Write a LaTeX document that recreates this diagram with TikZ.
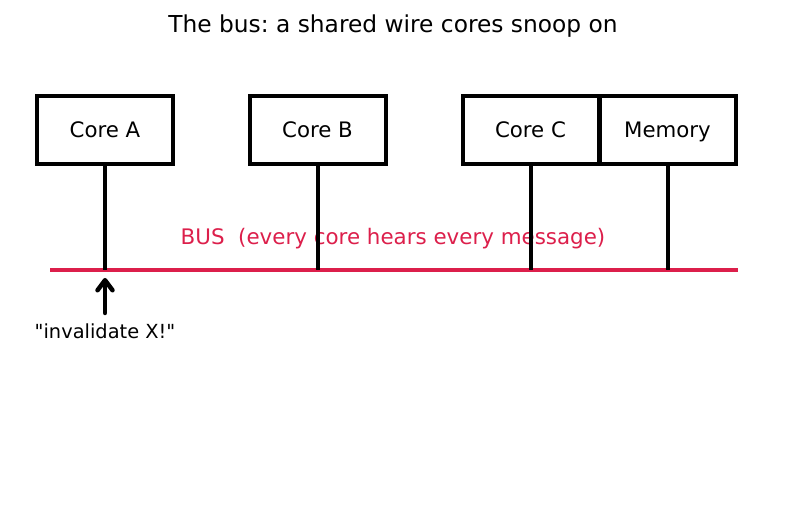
\documentclass[tikz,border=0pt]{standalone}
\usepackage{fontspec}
\setmainfont{DejaVu Sans}
\newfontfamily\rawfont{DejaVu Sans}[Ligatures=TeXOff]
\usetikzlibrary{arrows.meta}
\definecolor{buscol}{HTML}{DC1F4B}
\frenchspacing
\begin{document}
\begin{tikzpicture}[x=1pt,y=-1pt,
  unit/.style={draw=black,line width=4pt,minimum width=136pt,minimum height=68pt,inner sep=0pt,text height=15.5pt,text depth=0pt,font=\fontsize{21.3}{25}\selectfont},
  tap/.style={line width=4pt,black},
  busline/.style={line width=4pt,buscol}]
\useasboundingbox (0,0) rectangle (787,510);
\node (title) at (393,26) {\fontsize{23.3}{27}\selectfont The bus: a shared wire cores snoop on};
\node[unit] (A) at (105,130) {Core A};
\node[unit] (B) at (317.5,130) {Core B};
\node[unit] (C) at (530.5,130) {Core C};
\node[unit] (M) at (667.5,130) {Memory};
\coordinate (bl) at (50,270);
\coordinate (br) at (738,270);
\draw[busline] (bl) -- (br);
\node[text=buscol,font=\fontsize{21.4}{26}\selectfont] (buslabel) at (393,239) {BUS\ \ (every core hears every message)};
\coordinate (tA) at (A.south |- bl);
\coordinate (tB) at (B.south |- bl);
\coordinate (tC) at (C.south |- bl);
\coordinate (tM) at (M.south |- bl);
\draw[tap] (A.south) -- (tA);
\draw[tap] (B.south) -- (tB);
\draw[tap] (C.south) -- (tC);
\draw[tap] (M.south) -- (tM);
\node[font=\rawfont\fontsize{19.4}{23}\selectfont] (inv) at (105,331) {"invalidate X!"};
\coordinate (arrtail) at (105,313);
\coordinate (arrhead) at (105,278);
\draw[line width=4.5pt,line cap=round,-{Straight Barb[length=10pt,width=15pt,line width=4.5pt,round]}] (arrtail) -- (arrhead);
\end{tikzpicture}
\end{document}
